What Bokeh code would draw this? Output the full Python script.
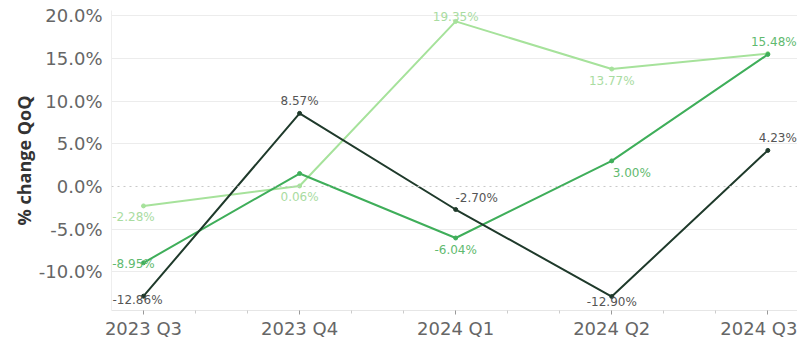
from bokeh.plotting import figure
from bokeh.models import ColumnDataSource, FixedTicker, PrintfTickFormatter, Span, Range1d
from bokeh.core.properties import value
from bokeh.embed import file_html
from bokeh.resources import INLINE

# ---- data ----
quarters = ["2023 Q3", "2023 Q4", "2024 Q1", "2024 Q2", "2024 Q3"]
dark_vals = [-12.86, 8.57, -2.70, -12.90, 4.23]
mid_vals = [-8.95, 1.52, -6.04, 3.00, 15.48]
light_vals = [-2.28, 0.06, 19.35, 13.77, 15.58]

# which labels are shown (Tableau hides overlapping ones)
dark_show = [True, True, True, True, True]
mid_show = [True, False, True, True, True]
light_show = [True, True, True, True, False]

# label placement (pixel offsets, style only)
dark_dx = [-6, 0, 21, 0, 10]
dark_dy = [4, -12, -12, 5, -12]
mid_dx = [-10, 0, 0, 20, 6]
mid_dy = [1, 0, 12, 12, -12]
light_dx = [-10, 0, 0, 0, 0]
light_dy = [11, 11, -4, 12, 0]

FONT = "DejaVu Sans"
TITLE_FONT = "Open Sans"

p = figure(width=797, height=350, output_backend="svg", toolbar_location=None,
           x_range=Range1d(-0.205, 4.19), y_range=Range1d(-14.54, 20.63),
           min_border_left=111, min_border_top=10, min_border_bottom=40,
           min_border_right=0)
p.outline_line_color = None
p.background_fill_color = "white"
p.border_fill_color = "white"

xs = list(range(len(quarters)))

series = [
    (light_vals, light_show, light_dx, light_dy, "#a6e29b", "#a9dca1"),
    (mid_vals, mid_show, mid_dx, mid_dy, "#3fae5a", "#5fba6f"),
    (dark_vals, dark_show, dark_dx, dark_dy, "#1f3a2b", "#555555"),
]

for vals, show, dx, dy, lc, tc in series:
    src = ColumnDataSource(dict(x=xs, y=vals))
    p.line("x", "y", source=src, line_color=lc, line_width=2)
    p.scatter("x", "y", source=src, size=4, fill_color=lc, line_color=lc)
    lx, ly, lt, ox, oy = [], [], [], [], []
    for i, v in enumerate(vals):
        if show[i]:
            lx.append(xs[i]); ly.append(v); lt.append(f"{v:.2f}%")
            ox.append(dx[i]); oy.append(dy[i])
    lsrc = ColumnDataSource(dict(x=lx, y=ly, t=lt, ox=ox, oy=oy))
    p.text("x", "y", text="t", source=lsrc, x_offset="ox", y_offset="oy",
           text_align="center", text_baseline="middle",
           text_font=value(FONT), text_font_size="12px", text_color=tc)

# zero line dotted
p.add_layout(Span(location=0, dimension="width", line_color="#c8c8c8",
                  line_dash="dotted", line_width=1), "below")

# y axis
p.yaxis.ticker = FixedTicker(ticks=[-10, -5, 0, 5, 10, 15, 20])
p.yaxis.formatter = PrintfTickFormatter(format="%.1f%%")
p.yaxis.axis_line_color = "#eeeeee"
p.yaxis.major_tick_line_color = None
p.yaxis.minor_tick_line_color = None
p.yaxis.major_tick_in = 0
p.yaxis.major_tick_out = 0
p.yaxis.minor_tick_in = 0
p.yaxis.minor_tick_out = 0
p.yaxis.major_label_text_font = FONT
p.yaxis.major_label_text_font_size = "18px"
p.yaxis.major_label_text_color = "#666666"
p.yaxis.major_label_standoff = 9
p.yaxis.axis_label = "% change QoQ"
p.yaxis.axis_label_text_font = TITLE_FONT
p.yaxis.axis_label_text_font_style = "bold"
p.yaxis.axis_label_text_font_size = "18px"
p.yaxis.axis_label_text_color = "#333333"
p.yaxis.axis_label_standoff = 0

p.ygrid.ticker = FixedTicker(ticks=[-10, -5, 5, 10, 15, 20])
p.ygrid.grid_line_color = "#ececec"
p.xgrid.grid_line_color = None

# x axis
minor = [i + k / 3 for i in range(-1, 5) for k in (1, 2)]
p.xaxis.ticker = FixedTicker(ticks=xs, minor_ticks=minor)
p.xaxis.major_label_overrides = {i: q for i, q in enumerate(quarters)}
p.xaxis.axis_line_color = "#e6e6e6"
p.xaxis.major_tick_line_color = "#999999"
p.xaxis.major_tick_in = 0
p.xaxis.major_tick_out = 4
p.xaxis.minor_tick_line_color = "#cccccc"
p.xaxis.minor_tick_in = 0
p.xaxis.minor_tick_out = 3
p.xaxis.major_label_text_font = FONT
p.xaxis.major_label_text_font_size = "18px"
p.xaxis.major_label_text_color = "#666666"
p.xaxis.major_label_standoff = 3

open("out.html", "w").write(file_html(p, INLINE))
